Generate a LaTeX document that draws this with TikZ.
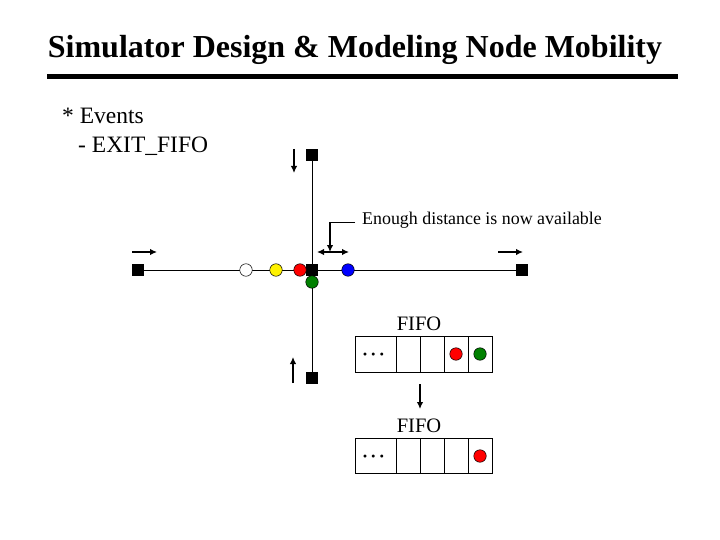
\documentclass[tikz,border=0pt]{standalone}
\usepackage{fontspec}
\setmainfont{Liberation Serif}
\usetikzlibrary{arrows.meta}
\begin{document}
\begin{tikzpicture}[x=1pt,y=-1pt,
  sq/.style={fill=black,minimum size=12pt,inner sep=0pt},
  dot/.style={circle,draw=black,line width=0.5pt,minimum size=12.5pt,inner sep=0pt},
  cell/.style={draw=black,line width=0.8pt,minimum height=36pt,inner sep=0pt},
  mv/.style={line width=1.4pt,-{Latex[length=7pt,width=6.5pt]}},
  dots/.style={font=\fontsize{18}{18}\selectfont\bfseries,inner sep=0pt},
  txt/.style={inner sep=0pt,anchor=base west}]
\useasboundingbox[fill=white] (0,0) rectangle (720,540);
% title
\node[inner sep=0pt,font=\fontsize{32}{34}\selectfont\bfseries] (title) at (355,50) {Simulator Design \& Modeling Node Mobility};
\fill (47,74.5) rectangle (678,79.5);
\node[txt,font=\fontsize{23.5}{26}\selectfont] (ev) at (62,124) {* Events};
\node[txt,font=\fontsize{23.5}{26}\selectfont] (ex) at (78,153) {- EXIT\_FIFO};
% roads
\node[sq] (top) at (312,155) {};
\node[sq] (bot) at (312,378) {};
\node[sq] (left) at (138,270) {};
\node[sq] (right) at (522,270) {};
\draw[line width=0.8pt] (top.center) -- (bot.center);
\draw[line width=0.8pt] (left.center) -- (right.center);
\node[sq] (mid) at (312,270) {};
% vehicles
\node[dot,fill=white] (w) at (246,270) {};
\node[dot,fill=yellow] (y) at (276,270) {};
\node[dot,fill=red] (r) at (300,270) {};
\node[dot,fill=blue] (b) at (348,270) {};
\node[dot,fill=green!50!black] (g) at (312,282) {};
% direction arrows
\coordinate (a1s) at (294,149); \coordinate (a1e) at (294,173);
\draw[mv] (a1s) -- (a1e);
\coordinate (a2s) at (132,252); \coordinate (a2e) at (157,252);
\draw[mv] (a2s) -- (a2e);
\coordinate (a3s) at (498,252); \coordinate (a3e) at (523,252);
\draw[mv] (a3s) -- (a3e);
\coordinate (a4s) at (293,383); \coordinate (a4e) at (293,357);
\draw[mv] (a4s) -- (a4e);
% distance
\coordinate (dl) at (317,252); \coordinate (dr) at (349,252);
\draw[line width=1.4pt,{Latex[length=7pt,width=6.5pt]}-{Latex[length=7pt,width=6.5pt]}] (dl) -- (dr);
\node[txt,font=\fontsize{17.9}{19}\selectfont] (enough) at (362,224.5) {Enough distance is now available};
\coordinate (lead) at (330,252);
\draw[line width=0.8pt] (355,222.5) -- (330,222.5);
\draw[mv] (330,222.5) -- (lead);
% FIFO 1
\node[font=\fontsize{20.5}{22}\selectfont,inner sep=0pt] (f1) at (419,324) {FIFO};
\node[cell,minimum width=41pt] (c11) at (375.5,354) {};
\node[dots] (d1) at (373.5,357) {·\hspace{2.5pt}·\hspace{2.5pt}·};
\node[cell,minimum width=24pt] (c12) at (408,354) {};
\node[cell,minimum width=24pt] (c13) at (432,354) {};
\node[cell,minimum width=24pt] (c14) at (456,354) {};
\node[cell,minimum width=24pt] (c15) at (480,354) {};
\node[dot,fill=red] (q1r) at (c14) {};
\node[dot,fill=green!50!black] (q1g) at (c15) {};
% arrow
\draw[mv] (420,384) -- (420,409);
% FIFO 2
\node[font=\fontsize{20.5}{22}\selectfont,inner sep=0pt] (f2) at (419,426) {FIFO};
\node[cell,minimum width=41pt,minimum height=35pt] (c21) at (375.5,456) {};
\node[dots] (d2) at (373.5,459) {·\hspace{2.5pt}·\hspace{2.5pt}·};
\node[cell,minimum width=24pt,minimum height=35pt] (c22) at (408,456) {};
\node[cell,minimum width=24pt,minimum height=35pt] (c23) at (432,456) {};
\node[cell,minimum width=24pt,minimum height=35pt] (c24) at (456,456) {};
\node[cell,minimum width=24pt,minimum height=35pt] (c25) at (480,456) {};
\node[dot,fill=red] (q2r) at (c25) {};
\end{tikzpicture}
\end{document}
